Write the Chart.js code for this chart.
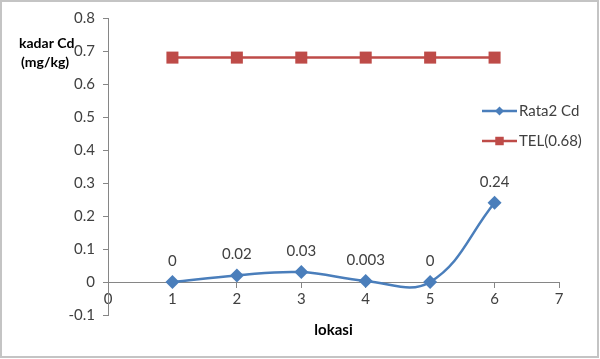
<!DOCTYPE html>
<html>
<head>
<meta charset="utf-8">
<script src="https://cdn.jsdelivr.net/npm/chart.js@4.4.1/dist/chart.umd.min.js"></script>
<style>
  html, body { margin: 0; padding: 0; background: #fff; }
  canvas { display: block; }
</style>
</head>
<body>
<canvas id="chart-cd" width="600" height="359"></canvas>
<script>
// Data
const lokasi = [1, 2, 3, 4, 5, 6];
const rataCd = [0, 0.02, 0.03, 0.003, 0, 0.24];
const telCd = [0.68, 0.68, 0.68, 0.68, 0.68, 0.68];
const seriesNames = ['Rata2 Cd', 'TEL(0.68)'];
const yTitle = ['kadar Cd', '(mg/kg)'];
const xTitle = 'lokasi';

const BLUE = '#4A7EBB';
const RED = '#BE4B48';
const TEXT = '#404040';
const AXIS = '#868686';
const FONT = 'Lato, "Open Sans", sans-serif';

const toPoints = (xs, ys) => xs.map((x, i) => ({ x: x, y: ys[i] }));

// background + outer frame
const frame = {
    id: 'frame',
    beforeDraw(chart) {
        const c = chart.ctx;
        c.save();
        c.fillStyle = '#fff';
        c.fillRect(0, 0, chart.width, chart.height);
        c.strokeStyle = '#c4c4c4';
        c.lineWidth = 2;
        c.strokeRect(1, 1, chart.width - 3, chart.height - 3);
        c.restore();
    }
};

// value labels above the blue points
const valueLabels = {
    id: 'valueLabels',
    afterDatasetsDraw(chart) {
        const c = chart.ctx;
        const meta = chart.getDatasetMeta(0);
        c.save();
        c.font = '15px ' + FONT;
        c.fillStyle = TEXT;
        c.textAlign = 'center';
        c.textBaseline = 'middle';
        meta.data.forEach((pt, i) => {
            c.fillText(String(rataCd[i]), pt.x, pt.y - 21);
        });
        c.restore();
    }
};

// legend and the horizontal y title (Excel style)
const extras = {
    id: 'extras',
    afterDraw(chart) {
        const c = chart.ctx;
        c.save();
        // y title
        c.font = 'bold 14px ' + FONT;
        c.fillStyle = '#000';
        c.textAlign = 'left';
        c.textBaseline = 'middle';
        c.fillText(yTitle[0], 19, 43);
        c.fillText(yTitle[1], 21, 62);

        // legend
        const rows = [
            { name: seriesNames[0], color: BLUE, style: 'rectRot', r: 4.5, y: 111 },
            { name: seriesNames[1], color: RED, style: 'rect', r: 6, y: 141 }
        ];
        rows.forEach(row => {
            c.strokeStyle = row.color;
            c.lineWidth = 2.5;
            c.beginPath();
            c.moveTo(482, row.y);
            c.lineTo(517, row.y);
            c.stroke();
            c.fillStyle = row.color;
            Chart.helpers.drawPoint(c, { pointStyle: row.style, radius: row.r, borderWidth: 0 }, 499.5, row.y);
            c.fillStyle = TEXT;
            c.font = '15px ' + FONT;
            c.fillText(row.name, 519, row.y);
        });
        c.restore();
    }
};

new Chart(document.getElementById('chart-cd'), {
    type: 'line',
    data: {
        datasets: [{
            label: seriesNames[0],
            data: toPoints(lokasi, rataCd),
            borderColor: BLUE,
            backgroundColor: BLUE,
            borderWidth: 2.5,
            tension: 0.4,
            pointStyle: 'rectRot',
            pointRadius: 7,
            pointBorderWidth: 0,
            fill: false
        }, {
            label: seriesNames[1],
            data: toPoints(lokasi, telCd),
            borderColor: RED,
            backgroundColor: RED,
            borderWidth: 2.5,
            tension: 0,
            pointStyle: 'rect',
            pointRadius: 8.5,
            pointBorderWidth: 0,
            fill: false
        }]
    },
    options: {
        responsive: false,
        animation: false,
        devicePixelRatio: 1,
        layout: { padding: { top: 18, right: 41, bottom: 44, left: 0 } },
        plugins: {
            legend: { display: false },
            tooltip: { enabled: false }
        },
        scales: {
            x: {
                type: 'linear',
                position: { y: 0 },
                min: 0,
                max: 7,
                ticks: {
                    stepSize: 1,
                    color: TEXT,
                    font: { family: FONT, size: 15 },
                    padding: 3
                },
                grid: { drawOnChartArea: false, tickLength: 5, color: AXIS },
                border: { color: AXIS, width: 1 },
                title: {
                    display: true,
                    text: xTitle,
                    color: '#000',
                    font: { family: FONT, size: 15, weight: 'bold' },
                    padding: { top: 10, bottom: 0 }
                }
            },
            y: {
                min: -0.1,
                max: 0.8,
                ticks: {
                    stepSize: 0.1,
                    color: TEXT,
                    font: { family: FONT, size: 15 },
                    padding: 8
                },
                grid: { drawOnChartArea: false, tickLength: 5, color: AXIS },
                border: { color: AXIS, width: 1 },
                afterFit(scale) { scale.width = 108; }
            }
        }
    },
    plugins: [frame, valueLabels, extras]
});
</script>
</body>
</html>
